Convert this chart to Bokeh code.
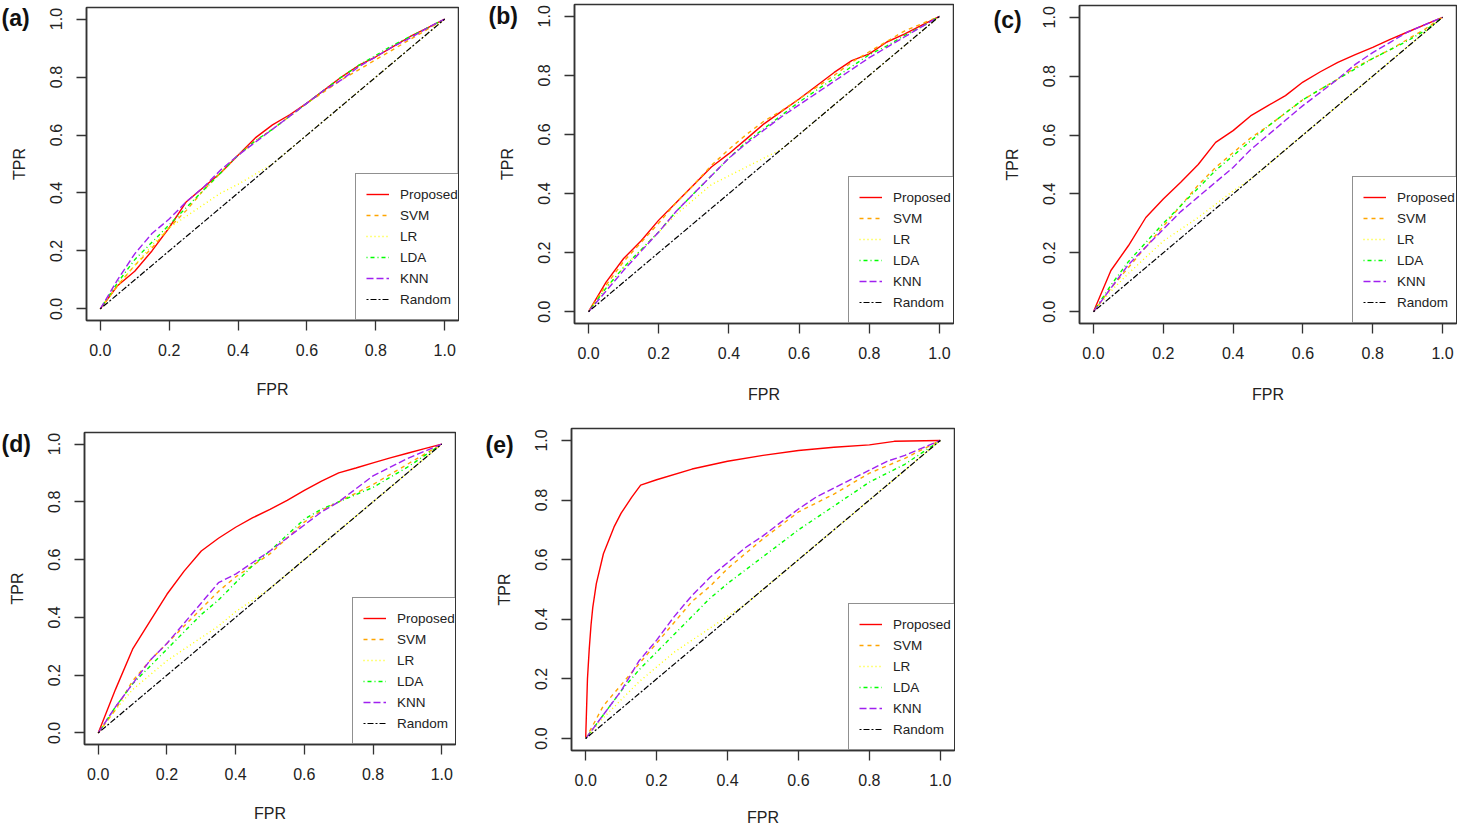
from bokeh.plotting import figure
from bokeh.layouts import row, column
from bokeh.models import Range1d, Label, FixedTicker, CustomJSTickFormatter, Legend, LegendItem
from bokeh.embed import file_html
from bokeh.resources import INLINE

# ---------------- data ----------------
FPR_GRID = [0, 0.05, 0.10, 0.15, 0.20, 0.25, 0.30, 0.35, 0.40, 0.45, 0.50,
            0.55, 0.60, 0.65, 0.70, 0.75, 0.80, 0.85, 0.90, 0.95, 1.0]
RANDOM_FPR = [0, 1]
RANDOM_TPR = [0, 1]

A_PROPOSED = [0, 0.08, 0.13, 0.20, 0.28, 0.37, 0.42, 0.47, 0.53, 0.59, 0.635, 0.67, 0.71, 0.755, 0.80, 0.84, 0.87, 0.905, 0.94, 0.97, 1]
A_SVM = [0, 0.08, 0.15, 0.21, 0.28, 0.34, 0.41, 0.47, 0.53, 0.58, 0.62, 0.665, 0.71, 0.75, 0.79, 0.825, 0.86, 0.895, 0.93, 0.965, 1]
A_LR = [0, 0.08, 0.15, 0.22, 0.28, 0.32, 0.36, 0.40, 0.43, 0.465, 0.50, 0.55, 0.60, 0.65, 0.70, 0.75, 0.80, 0.85, 0.90, 0.95, 1]
A_LDA = [0, 0.09, 0.17, 0.23, 0.29, 0.35, 0.41, 0.47, 0.53, 0.58, 0.62, 0.665, 0.71, 0.755, 0.80, 0.84, 0.875, 0.91, 0.94, 0.97, 1]
A_KNN = [0, 0.10, 0.19, 0.26, 0.31, 0.37, 0.42, 0.48, 0.53, 0.575, 0.62, 0.665, 0.71, 0.755, 0.79, 0.835, 0.87, 0.905, 0.935, 0.97, 1]

B_PROPOSED = [0, 0.10, 0.18, 0.24, 0.31, 0.37, 0.43, 0.49, 0.535, 0.585, 0.636, 0.678, 0.72, 0.765, 0.81, 0.85, 0.873, 0.913, 0.94, 0.97, 1]
B_SVM = [0, 0.09, 0.17, 0.235, 0.30, 0.37, 0.43, 0.495, 0.55, 0.60, 0.645, 0.68, 0.72, 0.76, 0.80, 0.845, 0.88, 0.915, 0.95, 0.975, 1]
B_LR = [0, 0.08, 0.15, 0.21, 0.27, 0.33, 0.38, 0.43, 0.46, 0.49, 0.52, 0.55, 0.60, 0.65, 0.70, 0.75, 0.80, 0.85, 0.90, 0.95, 1]
B_LDA = [0, 0.08, 0.15, 0.21, 0.27, 0.34, 0.40, 0.46, 0.52, 0.575, 0.62, 0.665, 0.71, 0.75, 0.79, 0.83, 0.87, 0.90, 0.935, 0.965, 1]
B_KNN = [0, 0.07, 0.14, 0.205, 0.27, 0.34, 0.40, 0.46, 0.52, 0.57, 0.615, 0.66, 0.70, 0.74, 0.78, 0.82, 0.86, 0.895, 0.93, 0.965, 1]

C_PROPOSED = [0, 0.14, 0.224, 0.32, 0.383, 0.44, 0.50, 0.575, 0.615, 0.665, 0.70, 0.734, 0.78, 0.815, 0.847, 0.873, 0.898, 0.925, 0.95, 0.975, 1]
C_SVM = [0, 0.08, 0.15, 0.22, 0.29, 0.36, 0.43, 0.49, 0.54, 0.59, 0.63, 0.675, 0.72, 0.755, 0.79, 0.83, 0.86, 0.89, 0.925, 0.96, 1]
C_LR = [0, 0.07, 0.13, 0.185, 0.24, 0.28, 0.32, 0.365, 0.41, 0.45, 0.50, 0.55, 0.60, 0.65, 0.70, 0.75, 0.80, 0.85, 0.90, 0.95, 1]
C_LDA = [0, 0.09, 0.17, 0.235, 0.30, 0.36, 0.42, 0.48, 0.53, 0.58, 0.63, 0.675, 0.72, 0.755, 0.79, 0.825, 0.86, 0.89, 0.92, 0.955, 1]
C_KNN = [0, 0.08, 0.16, 0.22, 0.28, 0.34, 0.39, 0.44, 0.49, 0.55, 0.60, 0.65, 0.70, 0.745, 0.79, 0.84, 0.88, 0.915, 0.95, 0.975, 1]

D_PROPOSED = [0, 0.15, 0.29, 0.385, 0.48, 0.56, 0.63, 0.674, 0.712, 0.745, 0.774, 0.805, 0.84, 0.872, 0.90, 0.917, 0.935, 0.952, 0.968, 0.984, 1]
D_SVM = [0, 0.08, 0.18, 0.25, 0.31, 0.37, 0.43, 0.49, 0.54, 0.58, 0.62, 0.675, 0.73, 0.77, 0.80, 0.83, 0.86, 0.895, 0.93, 0.965, 1]
D_LR = [0, 0.08, 0.15, 0.20, 0.25, 0.29, 0.33, 0.37, 0.42, 0.46, 0.50, 0.55, 0.60, 0.65, 0.70, 0.75, 0.80, 0.85, 0.90, 0.95, 1]
D_LDA = [0, 0.09, 0.17, 0.23, 0.29, 0.35, 0.41, 0.46, 0.52, 0.58, 0.63, 0.685, 0.74, 0.775, 0.80, 0.825, 0.85, 0.885, 0.92, 0.96, 1]
D_KNN = [0, 0.09, 0.17, 0.25, 0.31, 0.38, 0.45, 0.52, 0.55, 0.59, 0.63, 0.675, 0.72, 0.765, 0.80, 0.845, 0.89, 0.92, 0.95, 0.975, 1]

E_PROPOSED_FPR = [0, 0.005, 0.01, 0.015, 0.02, 0.03, 0.05, 0.08, 0.10, 0.13, 0.155, 0.20, 0.30, 0.40, 0.50, 0.60, 0.70, 0.80, 0.87, 1.0]
E_PROPOSED = [0, 0.20, 0.30, 0.38, 0.44, 0.52, 0.62, 0.71, 0.756, 0.81, 0.85, 0.868, 0.904, 0.93, 0.95, 0.966, 0.977, 0.985, 0.997, 1.0]
E_SVM = [0, 0.11, 0.18, 0.25, 0.32, 0.39, 0.46, 0.51, 0.57, 0.62, 0.67, 0.715, 0.76, 0.79, 0.82, 0.855, 0.89, 0.915, 0.94, 0.97, 1]
E_LR = [0, 0.07, 0.13, 0.19, 0.24, 0.29, 0.33, 0.37, 0.41, 0.45, 0.50, 0.55, 0.60, 0.65, 0.70, 0.75, 0.80, 0.85, 0.90, 0.95, 1]
E_LDA = [0, 0.08, 0.16, 0.23, 0.29, 0.35, 0.41, 0.47, 0.52, 0.565, 0.61, 0.655, 0.70, 0.74, 0.78, 0.82, 0.86, 0.89, 0.92, 0.96, 1]
E_KNN = [0, 0.08, 0.16, 0.26, 0.33, 0.41, 0.48, 0.54, 0.59, 0.64, 0.68, 0.725, 0.77, 0.81, 0.84, 0.87, 0.90, 0.93, 0.95, 0.975, 1]

SERIES_NAMES = ["Proposed", "SVM", "LR", "LDA", "KNN", "Random"]
PANEL_TAGS = ["(a)", "(b)", "(c)", "(d)", "(e)"]
TICKS = [0.0, 0.2, 0.4, 0.6, 0.8, 1.0]
X_TITLE = "FPR"
Y_TITLE = "TPR"

# ---------------- styles ----------------
COLORS = ["#FF0000", "#FFA500", "#FFFF00", "#00FF00", "#A020F0", "#000000"]
DASHES = ["solid", "4 4", "1 3", "1 3 4 3", "7 3", "2 2 6 2"]
FONT = "Liberation Sans"

# canvas origin on page (ox, oy), canvas size (w, h), borders (l, r, t, b), legend x offset,
# tag page position (left, centre-y) and the side panel hosting it, x-title handling
GEOM = [
    dict(ox=0, oy=0, w=459, h=420, l=86, r=1, t=7, b=100, leg=269, tag=(1, 17), tag_side="below",
         xtitle=("label", 389)),
    dict(ox=459, oy=0, w=495, h=420, l=115, r=1, t=4, b=97, leg=274, tag=(488, 15), tag_side="left",
         xtitle=("label", 394)),
    dict(ox=954, oy=0, w=503, h=420, l=125, r=1, t=5, b=97, leg=273, tag=(993, 19), tag_side="left",
         xtitle=("label", 394)),
    dict(ox=0, oy=420, w=456, h=408, l=84, r=1, t=12, b=84, leg=268, tag=(1, 443), tag_side="below",
         xtitle=("label", 813)),
    dict(ox=456, oy=420, w=499, h=408, l=115, r=1, t=8, b=78, leg=277, tag=(485, 444), tag_side="left",
         xtitle=("label", 817)),
]

PANELS = [
    ([FPR_GRID] * 5, [A_PROPOSED, A_SVM, A_LR, A_LDA, A_KNN]),
    ([FPR_GRID] * 5, [B_PROPOSED, B_SVM, B_LR, B_LDA, B_KNN]),
    ([FPR_GRID] * 5, [C_PROPOSED, C_SVM, C_LR, C_LDA, C_KNN]),
    ([FPR_GRID] * 5, [D_PROPOSED, D_SVM, D_LR, D_LDA, D_KNN]),
    ([E_PROPOSED_FPR] + [FPR_GRID] * 4, [E_PROPOSED, E_SVM, E_LR, E_LDA, E_KNN]),
]


def make_panel(i):
    g = GEOM[i]
    xs_list, ys_list = PANELS[i]
    p = figure(width=g["w"], height=g["h"], min_border_left=g["l"], min_border_right=g["r"],
               min_border_top=g["t"], min_border_bottom=g["b"],
               x_range=Range1d(-0.04, 1.04), y_range=Range1d(-0.04, 1.04),
               output_backend="svg", toolbar_location=None, tools="")
    p.grid.visible = False
    p.background_fill_color = "white"
    p.border_fill_color = "white"
    p.outline_line_color = "#333333"
    p.outline_line_width = 1.5

    renderers = []
    for k in range(5):
        renderers.append(p.line(xs_list[k], ys_list[k], line_color=COLORS[k], line_dash=DASHES[k],
                                line_width=1.4))
    renderers.append(p.line(RANDOM_FPR, RANDOM_TPR, line_color=COLORS[5], line_dash=DASHES[5],
                            line_width=1.2))

    fmt = CustomJSTickFormatter(code="return tick.toFixed(1);")
    for ax in (p.xaxis[0], p.yaxis[0]):
        ax.ticker = FixedTicker(ticks=TICKS)
        ax.formatter = fmt
        ax.minor_tick_line_color = None
        ax.major_tick_in = 0
        ax.major_tick_out = 10
        ax.major_tick_line_color = "#333333"
        ax.major_tick_line_width = 1.3
        ax.axis_line_color = "#333333"
        ax.axis_line_width = 1.5
        ax.major_label_text_font = FONT
        ax.major_label_text_font_size = "16px"
        ax.major_label_text_color = "#222222"
        ax.axis_label_text_font = FONT
        ax.axis_label_text_font_size = "16px"
        ax.axis_label_text_font_style = "normal"
        ax.axis_label_text_color = "#222222"
    p.yaxis.axis_label = Y_TITLE
    p.yaxis.major_label_orientation = "vertical"
    p.xaxis.major_label_standoff = 13
    p.yaxis.major_label_standoff = 14
    p.yaxis.axis_label_standoff = 20

    lg = Legend(items=[LegendItem(label=SERIES_NAMES[k], renderers=[renderers[k]]) for k in range(6)])
    lg.location = (g["leg"], 0)
    lg.border_line_color = "#222222"
    lg.border_line_width = 1.3
    lg.background_fill_color = "white"
    lg.background_fill_alpha = 1.0
    lg.label_text_font = FONT
    lg.label_text_font_size = "13.5px"
    lg.label_text_color = "#222222"
    lg.label_height = 20
    lg.glyph_height = 20
    lg.glyph_width = 23
    lg.label_standoff = 11
    lg.spacing = 1
    lg.padding = 10
    lg.margin = 0
    p.add_layout(lg)

    # page pixel -> data coordinate helpers (frame geometry is fixed by the borders above)
    fl = g["ox"] + g["l"]
    ft = g["oy"] + g["t"]
    fw = g["w"] - g["l"] - g["r"]
    fh = g["h"] - g["t"] - g["b"]

    def to_x(px):
        return -0.04 + (px - fl) / fw * 1.08

    def to_y(py):
        return 1.04 - (py - ft) / fh * 1.08

    mode, val = g["xtitle"]
    if mode == "axis":
        p.xaxis.axis_label = X_TITLE
        p.xaxis.axis_label_standoff = val
    else:
        p.add_layout(Label(x=0.5, y=to_y(val), text=X_TITLE, text_font=FONT,
                           text_font_size="16px", text_color="#222222",
                           text_align="center", text_baseline="middle"), "below")

    tx, ty = g["tag"]
    p.add_layout(Label(x=to_x(tx), y=to_y(ty), text=PANEL_TAGS[i], text_font=FONT,
                       text_font_style="bold", text_font_size="23px",
                       text_color="#111111", text_align="left", text_baseline="middle"),
                 g["tag_side"])
    return p


panels = [make_panel(i) for i in range(5)]
# each plot wrapped on its own so that the rows do not align the plot frames with each other
cells = [column(p, spacing=0) for p in panels]
layout = column(row(cells[0], cells[1], cells[2], spacing=0),
                row(cells[3], cells[4], spacing=0), spacing=0)

open("out.html", "w").write(file_html(layout, INLINE))
